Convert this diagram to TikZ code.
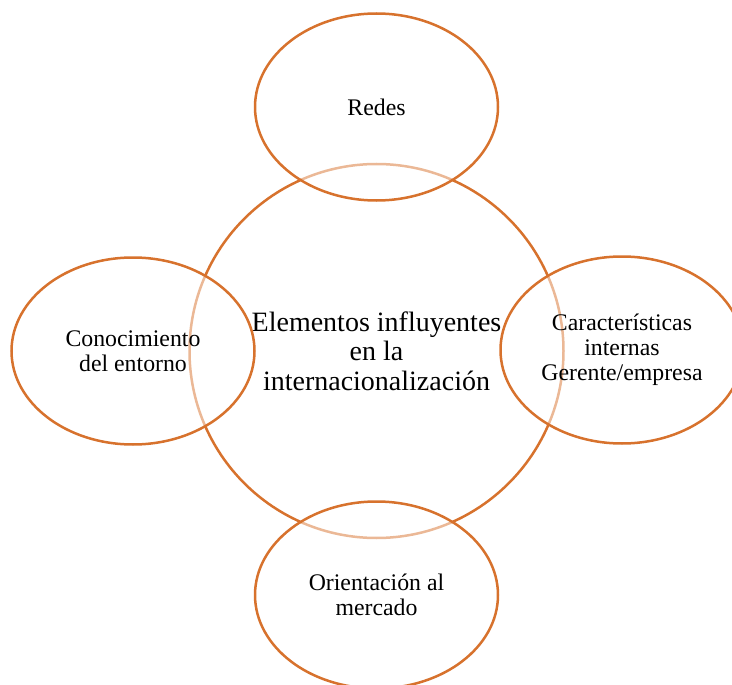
\documentclass[tikz,border=0pt]{standalone}
\usepackage{fontspec}
\setmainfont{Liberation Serif}
\usetikzlibrary{shapes.geometric}
\definecolor{ringorange}{RGB}{215,114,45}
\begin{document}
\begin{tikzpicture}[x=1pt,y=-1pt,
  hub/.style={circle,draw=ringorange,line width=2.5pt,minimum size=374pt,inner sep=0pt},
  hubtext/.style={align=center,font=\fontsize{28}{29.3}\selectfont},
  petal/.style={ellipse,draw=ringorange,line width=2.5pt,fill=white,fill opacity=0.5,
    text opacity=1,inner sep=0pt,minimum width=243pt,minimum height=187pt,
    align=center,font=\fontsize{23.8}{25}\selectfont}]
  \useasboundingbox (0,0) rectangle (732,685);
  \clip (0,0) rectangle (732,685);
  % central circle
  \node[hub] (core) at (376.5,351) {};
  \node[hubtext] (coretext) at (376.5,351) {Elementos influyentes\\en la\\internacionalización};
  % surrounding ellipses, semi-transparent over the circle
  \node[petal] (top) at (376.5,107) {Redes};
  \node[petal] (left) at (133,351) {Conocimiento\\del entorno};
  \node[petal] (right) at (622,350) {Características\\internas\\Gerente/empresa};
  \node[petal] (bottom) at (376.5,595) {Orientación al\\mercado};
\end{tikzpicture}
\end{document}
